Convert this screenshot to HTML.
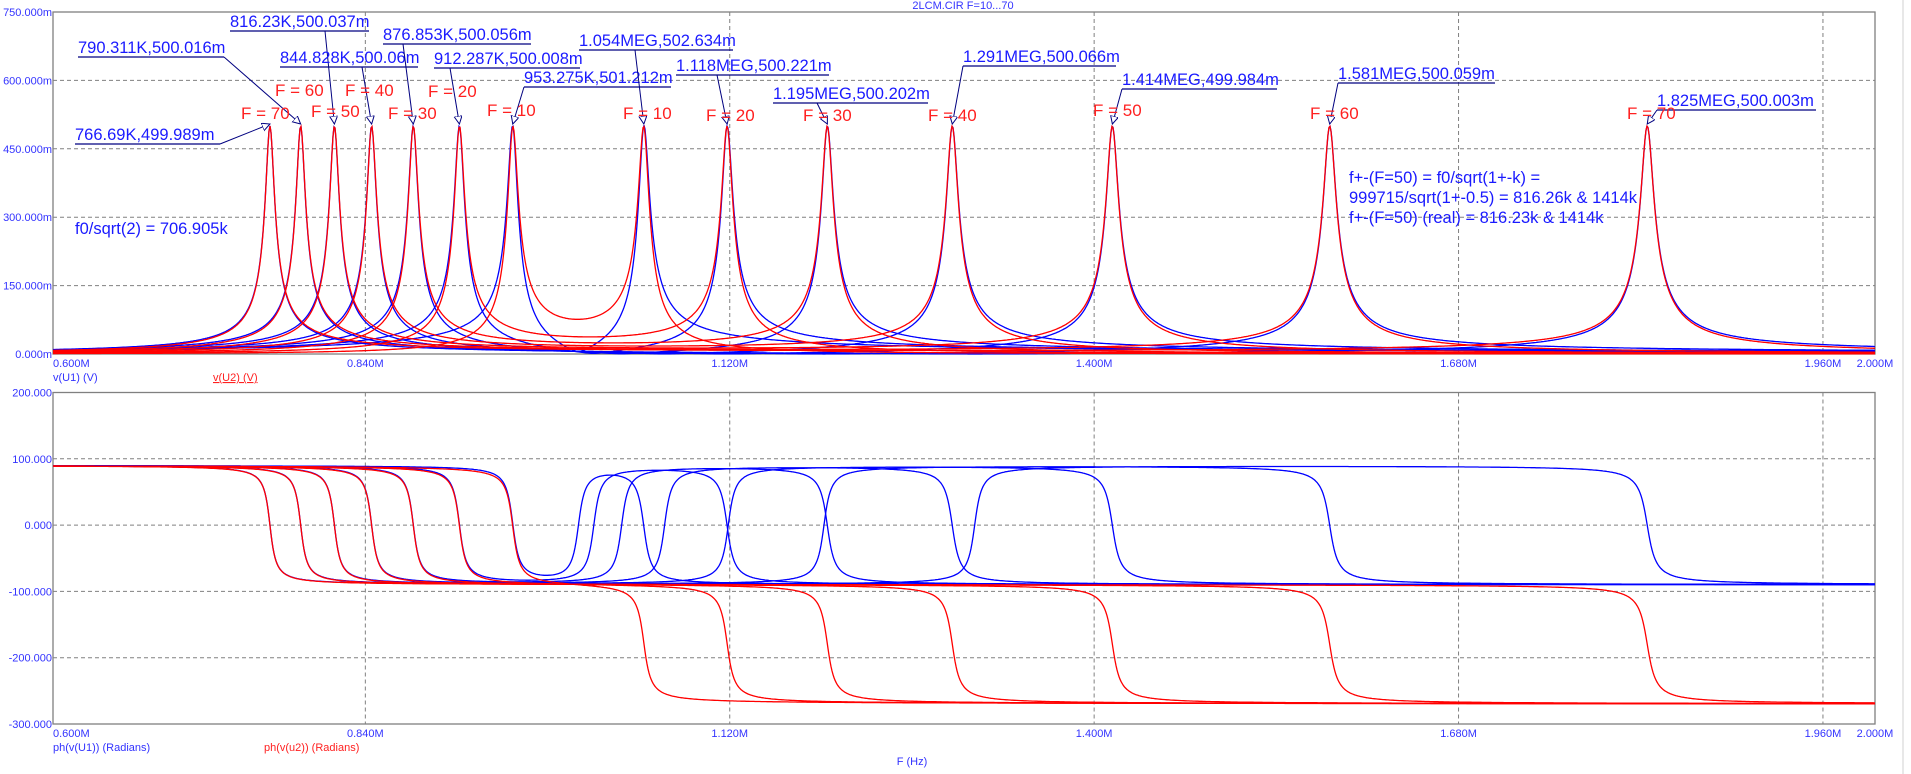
<!DOCTYPE html>
<html><head><meta charset="utf-8">
<style>
html,body{margin:0;padding:0;background:#fff;}
svg{display:block;}
text{font-family:"Liberation Sans",Arial,sans-serif;}
.tk{font-size:11px;fill:#3333ff;}
.an{font-size:16.5px;fill:#1a1aff;}
.fl{font-size:17px;fill:#ff2020;}
</style></head>
<body>
<svg id="chart" width="1911" height="774" viewBox="0 0 1911 774" xmlns="http://www.w3.org/2000/svg">
<defs>
<marker id="arr" markerWidth="10" markerHeight="10" refX="8" refY="4" orient="auto" markerUnits="userSpaceOnUse">
<path d="M0,0 L8,4 L0,8 Z" fill="#fff" stroke="#000080" stroke-width="1"/>
</marker>
</defs>
<line x1="1903" y1="0" x2="1903" y2="774" stroke="#d0d0d0" stroke-width="1"/>
<text x="963" y="9" class="tk" font-size="10" text-anchor="middle">2LCM.CIR F=10...70</text>
<g id="top-grid"></g>
<g id="bot-grid"></g>
<g id="top-traces"></g>
<g id="bot-traces"></g>
<g id="annots"></g>
<text x="75" y="234" class="an">f0/sqrt(2) = 706.905k</text>
<text x="1349" y="183" class="an">f+-(F=50) = f0/sqrt(1+-k) =</text>
<text x="1349" y="203" class="an">999715/sqrt(1+-0.5) = 816.26k &amp; 1414k</text>
<text x="1349" y="223" class="an">f+-(F=50) (real) = 816.23k &amp; 1414k</text>
<text x="53" y="381" class="tk">v(U1) (V)</text>
<text x="213" y="381" class="tk" style="fill:#ff2020;text-decoration:underline">v(U2) (V)</text>
<text x="53" y="751" class="tk">ph(v(U1)) (Radians)</text>
<text x="264" y="751" class="tk" style="fill:#ff2020">ph(v(u2)) (Radians)</text>
<text x="912" y="765" class="tk" text-anchor="middle">F (Hz)</text>
</svg>
<script>
// data
const fValues = [10, 20, 30, 40, 50, 60, 70];
const fLowMHz = [0.953275, 0.912287, 0.876853, 0.844828, 0.81623, 0.790311, 0.76669];
const fHighMHz = [1.054, 1.118, 1.195, 1.291, 1.414, 1.581, 1.825];
const qBase = 60;
const qPerMHz = 70;
const xTicks = [0.6, 0.84, 1.12, 1.4, 1.68, 1.96, 2.0];
const xTickLabels = ["0.600M","0.840M","1.120M","1.400M","1.680M","1.960M","2.000M"];
const magTicks = [0, 150, 300, 450, 600, 750];
const magTickLabels = ["0.000m","150.000m","300.000m","450.000m","600.000m","750.000m"];
const phTicks = [-300, -200, -100, 0, 100, 200];
const phTickLabels = ["-300.000","-200.000","-100.000","0.000","100.000","200.000"];

const NS = "http://www.w3.org/2000/svg";
const X0 = 53, X1 = 1875;
const T0 = 12, T1 = 354, B0 = 392.5, B1 = 724;
const xS = f => X0 + (f - 0.6) / 1.4 * (X1 - X0);
const xInv = px => 0.6 + (px - X0) / (X1 - X0) * 1.4;
const yMag = v => T1 - v / 750 * (T1 - T0);
const yPh = p => B1 - (p + 300) / 500 * (B1 - B0);

function mk(tag, attrs, parent) {
  const e = document.createElementNS(NS, tag);
  for (const k in attrs) e.setAttribute(k, attrs[k]);
  parent.appendChild(e);
  return e;
}

function drawFrame(g, yTop, yBot, ticks, labels, yFn, name) {
  for (let i = 0; i < ticks.length; i++) {
    const y = yFn(ticks[i]);
    if (y > yTop + 1 && y < yBot - 1) {
      const l = mk("line", {x1: X0, x2: X1, y1: y, y2: y, stroke: "#808080", "stroke-dasharray": "4,3", "stroke-width": 1}, g);
      
      
    }
    const t = mk("text", {x: 52, y: y + 4, "text-anchor": "end", class: "tk"}, g);
    t.textContent = labels[i];
    
    
  }
  for (let i = 0; i < xTicks.length; i++) {
    const x = xS(xTicks[i]);
    if (x > X0 + 1 && x < X1 - 1) {
      const l = mk("line", {x1: x, x2: x, y1: yTop, y2: yBot, stroke: "#808080", "stroke-dasharray": "4,3", "stroke-width": 1}, g);
      
      
    }
    const t = mk("text", {x: i === 0 ? X0 : x, y: yBot + 13, "text-anchor": i === 0 ? "start" : "middle", class: "tk"}, g);
    t.textContent = xTickLabels[i];
    
    
  }
  const r = mk("rect", {x: X0, y: yTop, width: X1 - X0, height: yBot - yTop, fill: "none", stroke: "#808080", "stroke-width": 1.3}, g);
  
  
}
drawFrame(document.getElementById("top-grid"), T0, T1, magTicks, magTickLabels, yMag, "magnitude");
drawFrame(document.getElementById("bot-grid"), B0, B1, phTicks, phTickLabels, yPh, "phase");

function H(f, fk) {
  const x = f / fk, Q = qBase + qPerMHz * fk;
  const re = 1 - x * x, im = x / Q;
  const d = re * re + im * im;
  return [im * im / d, im * re / d];
}

const gT = document.getElementById("top-traces");
const gB = document.getElementById("bot-traces");
const sets = [{sign: 1, color: "#0000ff", nm: "u1"}, {sign: -1, color: "#ff0000", nm: "u2"}];
for (const s of sets) {
  for (let k = 0; k < fValues.length; k++) {
    let pm = "", pp = "", prev = null;
    for (let px = X0; px <= X1; px += 1) {
      const f = xInv(px);
      const a = H(f, fLowMHz[k]), b = H(f, fHighMHz[k]);
      const re = 0.5 * (a[0] + s.sign * b[0]), im = 0.5 * (a[1] + s.sign * b[1]);
      const mag = Math.sqrt(re * re + im * im) * 1000;
      let ph = Math.atan2(im, re) * 180 / Math.PI;
      if (prev !== null) { while (ph - prev > 180) ph -= 360; while (ph - prev < -180) ph += 360; }
      prev = ph;
      pm += (pm ? " " : "") + px.toFixed(1) + "," + Math.max(T0, yMag(mag)).toFixed(1);
      pp += (pp ? " " : "") + px.toFixed(1) + "," + yPh(ph).toFixed(1);
    }
    const l1 = mk("polyline", {points: pm, fill: "none", stroke: s.color, "stroke-width": 1.3}, gT);
    
    
    const l2 = mk("polyline", {points: pp, fill: "none", stroke: s.color, "stroke-width": 1.3}, gB);
    
    
  }
}

const annText = ["766.69K,499.989m","790.311K,500.016m","816.23K,500.037m","844.828K,500.06m","876.853K,500.056m","912.287K,500.008m","953.275K,501.212m","1.054MEG,502.634m","1.118MEG,500.221m","1.195MEG,500.202m","1.291MEG,500.066m","1.414MEG,499.984m","1.581MEG,500.059m","1.825MEG,500.003m"];
const annFreq = [0.76669,0.790311,0.81623,0.844828,0.876853,0.912287,0.953275,1.054,1.118,1.195,1.291,1.414,1.581,1.825];
const annX1 = [75,78,230,280,383,434,524,579,676,773,963,1122,1338,1657];
const annX2 = [220,224,369,418,531,580,671,733,829,928,1116,1277,1495,1816];
const annY = [144,57,31,67,44,68,87,50,75,103,66,89,83,110];
const annLead = [220,224,325,362,403,450,524,635,717,817,963,1122,1338,1657];
const gA = document.getElementById("annots");
for (let i = 0; i < annText.length; i++) {
  const t = mk("text", {x: annX1[i], y: annY[i] - 4, class: "an"}, gA);
  t.textContent = annText[i];
  
  
  const u = mk("line", {x1: annX1[i], x2: annX2[i], y1: annY[i], y2: annY[i], stroke: "#000080", "stroke-width": 1.3}, gA);
  
  
  const px = xS(annFreq[i]);
  const l = mk("line", {x1: annLead[i], y1: annY[i], x2: px, y2: yMag(500) - 2, stroke: "#000080", "stroke-width": 1, "marker-end": "url(#arr)"}, gA);
  
  
}
const fLabText = ["F = 70","F = 60","F = 50","F = 40","F = 30","F = 20","F = 10","F = 10","F = 20","F = 30","F = 40","F = 50","F = 60","F = 70"];
const fLabX = [241,275,311,345,388,428,487,623,706,803,928,1093,1310,1627];
const fLabY = [113,90,111,90,113,91,110,113,115,115,115,110,113,113];
for (let i = 0; i < fLabText.length; i++) {
  const t = mk("text", {x: fLabX[i], y: fLabY[i] + 6, class: "fl"}, gA);
  t.textContent = fLabText[i];
  
  
}
</script>
</body></html>
